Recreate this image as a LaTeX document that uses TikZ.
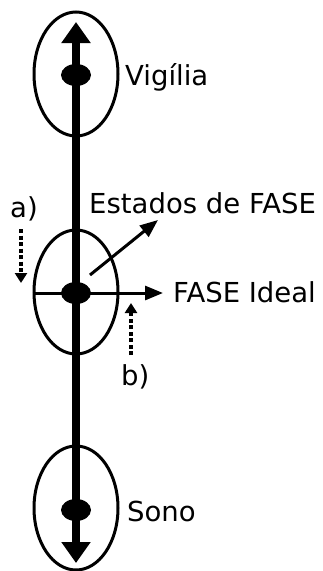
\documentclass[tikz,border=0pt]{standalone}
\usepackage{fontspec}
\setmainfont{DejaVu Sans}
\usetikzlibrary{shapes.geometric,arrows.meta}
\begin{document}
\begin{tikzpicture}[x=1pt,y=-1pt,
  zone/.style={ellipse,draw,line width=3pt,minimum width=84pt,minimum height=124pt,inner sep=0pt},
  blob/.style={ellipse,fill=black,minimum width=30pt,minimum height=22pt,inner sep=0pt},
  lbl/.style={anchor=base west,inner sep=0pt,font=\fontsize{27.5}{30}\selectfont},
  axis/.style={line width=8.5pt,{Triangle[width=28pt,length=21pt]}-{Triangle[width=28pt,length=21pt]}},
  thin/.style={line width=3pt,-{Triangle[width=14pt,length=18pt]}},
  dots/.style={line width=4pt,dash pattern=on 4pt off 2.5pt,-{Triangle[width=12pt,length=10pt]}}]
\useasboundingbox (0,0) rectangle (323,571);
% ellipses
\node[zone] (top) at (76,74) {};
\node[zone] (mid) at (76,292) {};
\node[zone] (bot) at (76,508) {};
% axis
\coordinate (axtop) at (76,22);
\coordinate (axbot) at (76,563);
\draw[axis] (axtop) -- (axbot);
% dots
\node[blob] (dtop) at (76,75) {};
\node[blob] (dmid) at (76,293) {};
\node[blob] (dbot) at (76,510) {};
% horizontal arrow
\coordinate (hend) at (163,293);
\draw[thin] (mid.west |- dmid) -- (hend);
% diagonal arrow
\coordinate (dstart) at (90,275);
\coordinate (dend) at (158,220);
\draw[thin] (dstart) -- (dend);
% dotted arrows
\coordinate (astart) at (21,229);
\coordinate (aend) at (21,283);
\draw[dots] (astart) -- (aend);
\coordinate (bstart) at (131,355);
\coordinate (bend) at (131,303);
\draw[dots] (bstart) -- (bend);
% labels
\node[lbl] (lvig) at (125,85) {Vigília};
\node[lbl] (lsono) at (127,521) {Sono};
\node[lbl] (lest) at (89,213) {Estados de FASE};
\node[lbl] (lideal) at (173,302) {FASE Ideal};
\node[lbl] (la) at (10,217) {a)};
\node[lbl] (lb) at (121,385) {b)};
\end{tikzpicture}
\end{document}
